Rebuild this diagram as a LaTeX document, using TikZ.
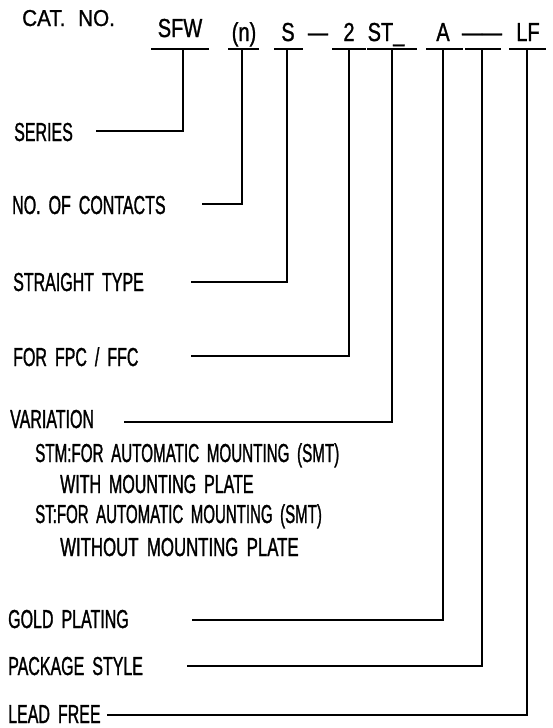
\documentclass[tikz,border=0pt]{standalone}
\usepackage{fontspec}
\usepackage{graphicx}
\newfontfamily\catfont[FakeStretch=0.615,WordSpace=1.8,FakeBold=1.1]{Liberation Sans}
\newfontfamily\partfont[FakeStretch=0.77,FakeBold=1.1]{Liberation Sans}
\newfontfamily\headfont[FakeStretch=0.9,WordSpace=2.2,FakeBold=1.0]{Liberation Sans}
\usepackage{tikz}

\tikzset{
  lbl/.style={anchor=base west, inner sep=0pt, font=\catfont\fontsize{26}{26}\selectfont},
  code/.style={anchor=base, inner sep=0pt, font=\partfont\fontsize{26}{26}\selectfont},
  lead/.style={line width=1.4pt, line cap=rect},
}

\begin{document}
\begin{tikzpicture}[x=1pt,y=1pt,yscale=-1,xscale=1]
\useasboundingbox (0,0) rectangle (553,728);

% Text Node
\node[lbl, font=\headfont\fontsize{23}{23}\selectfont] (cat) at (22,26) {CAT.\ NO.};
% Text Node (part number)
\node[code] (cSFW) at (180,37) {SFW};
\node[code] (cN) at (244,41) {(n)};
\node[code] (cS) at (288,41) {S};
\node[code] (cDash) at (318,41) {—};
\node[code] (cTwo) at (349,41) {2};
\node[code] (cST) at (386,41) {ST\_};
\node[code] (cA) at (443,41) {A};
\node[code] (cPkg) at (482,41) {——};
\node[code] (cLF) at (528,41) {LF};

%Straight Lines (underlines)
\draw[lead] (152,49) -- (208,49) ;
\draw[lead] (229,49) -- (258,49) ;
\draw[lead] (275,49) -- (302,49) ;
\draw[lead] (333,49) -- (365,49) ;
\draw[lead] (368,49) -- (416,49) ;
\draw[lead] (427,49) -- (462,49) ;
\draw[lead] (466,49) -- (500,49) ;
\draw[lead] (510,49) -- (545,49) ;

% tee points
\coordinate (tSFW) at (183,49);
\coordinate (tN) at (242,49);
\coordinate (tS) at (287,49);
\coordinate (tTwo) at (349,49);
\coordinate (tST) at (392,49);
\coordinate (tA) at (443,49);
\coordinate (tPkg) at (482,49);
\coordinate (tLF) at (527,49);

% Text Node (descriptions)
\node[lbl] (lSeries) at (14,141) {SERIES};
\node[lbl] (lContacts) at (12,214) {NO.\ OF CONTACTS};
\node[lbl] (lStraight) at (13,291) {STRAIGHT TYPE};
\node[lbl] (lFpc) at (13,366) {FOR FPC / FFC};
\node[lbl] (lVar) at (10,428) {VARIATION};
\node[lbl] (lStm) at (35,462) {\scalebox{0.95}[1]{STM:FOR AUTOMATIC MOUNTING (SMT)}};
\node[lbl] (lWith) at (60,493) {WITH MOUNTING PLATE};
\node[lbl] (lSt) at (35,523) {\scalebox{0.94}[1]{ST:FOR AUTOMATIC MOUNTING (SMT)}};
\node[lbl] (lWithout) at (60,556) {\scalebox{1.05}[1]{WITHOUT MOUNTING PLATE}};
\node[lbl] (lGold) at (8,628) {GOLD PLATING};
\node[lbl] (lPkg) at (8,675) {PACKAGE STYLE};
\node[lbl] (lLead) at (8,723) {LEAD FREE};

% line starts
\coordinate (sSeries) at (97,131);
\coordinate (sContacts) at (203,204);
\coordinate (sStraight) at (192,282);
\coordinate (sFpc) at (192,356);
\coordinate (sVar) at (125,422);
\coordinate (sGold) at (193,620);
\coordinate (sPkg) at (188,666);
\coordinate (sLead) at (108,715);

%Straight Lines (leaders)
\draw[lead] (tSFW) |- (sSeries) ;
\draw[lead] (tN) |- (sContacts) ;
\draw[lead] (tS) |- (sStraight) ;
\draw[lead] (tTwo) |- (sFpc) ;
\draw[lead] (tST) |- (sVar) ;
\draw[lead] (tA) |- (sGold) ;
\draw[lead] (tPkg) |- (sPkg) ;
\draw[lead] (tLF) |- (sLead) ;

\end{tikzpicture}
\end{document}
